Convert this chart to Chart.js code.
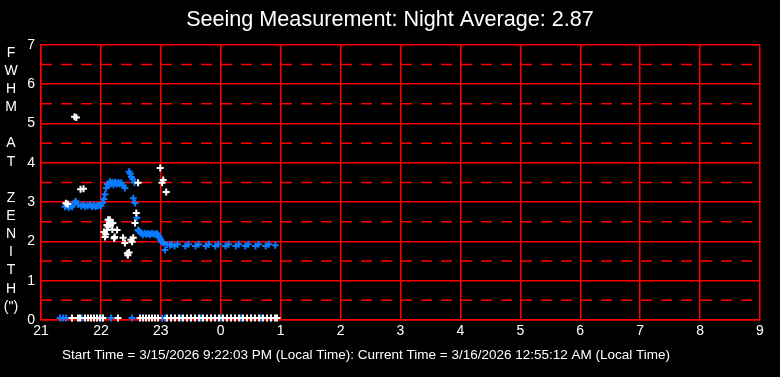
<!DOCTYPE html>
<html><head><meta charset="utf-8">
<script src="https://cdn.jsdelivr.net/npm/chart.js@4/dist/chart.umd.min.js"></script>
<style>html,body{margin:0;padding:0;background:#000;overflow:hidden}</style>
</head><body>
<canvas id="c" width="780" height="377"></canvas>
<script>
const titleText = 'Seeing Measurement: Night Average: 2.87';
const footerText = 'Start Time = 3/15/2026 9:22:03 PM (Local Time): Current Time = 3/16/2026 12:55:12 AM (Local Time)';
const yTitleLetters = ['F','W','H','M','','A','T','','Z','E','N','I','T','H','(")'];

// Blue series: FWHM at zenith (hours since midnight of start day, arcsec)
const blueTimes = [21.40,21.43,21.46,21.49,21.52,21.56,21.58,21.62,21.67,21.71,21.74,21.78,21.82,21.85,21.88,21.91,21.94,21.97,22.00,
  22.03,22.05,22.07,22.09,22.11,22.13,22.15,22.17,22.19,22.21,22.23,22.25,22.27,22.29,22.31,22.34,22.37,22.40,
  22.47,22.49,22.51,22.53,22.54,22.56,22.57,22.60,22.62,22.64,22.67,22.70,22.73,22.76,22.79,22.82,22.85,22.88,22.91,22.94,22.96,
  22.98,23.00,23.01,23.04,23.07,23.10,23.15,23.18,23.23,23.28,23.41,23.46,23.58,23.63,23.75,23.80,23.91,23.96,
  24.08,24.13,24.25,24.30,24.41,24.46,24.58,24.63,24.75,24.80,24.91,
  21.32,21.37,21.42,21.68,22.02,22.17,22.52,23.02,23.07,23.17,23.34,23.50,23.67,23.84,24.00,24.17,24.34,24.51,24.67,24.84];
const blueValues = [2.88,2.92,2.86,2.90,2.88,2.98,3.02,2.94,2.90,2.93,2.88,2.91,2.93,2.89,2.92,2.88,2.91,2.92,2.90,
  2.98,3.08,3.20,3.36,3.46,3.45,3.52,3.47,3.50,3.44,3.51,3.48,3.46,3.50,3.47,3.49,3.42,3.36,
  3.77,3.72,3.64,3.58,3.10,3.50,2.98,2.60,2.29,2.26,2.21,2.17,2.21,2.18,2.20,2.17,2.21,2.19,2.18,2.20,2.14,
  2.09,2.04,1.99,1.96,1.78,1.92,1.90,1.92,1.88,1.93,1.88,1.93,1.88,1.93,1.88,1.93,1.88,1.93,
  1.88,1.93,1.88,1.93,1.88,1.93,1.88,1.93,1.88,1.93,1.90,
  0.05,0.05,0.05,0.05,0.05,0.05,0.05,0.05,0.05,0.05,0.05,0.05,0.05,0.05,0.05,0.05,0.05,0.05,0.05,0.05];

// White series
const whiteTimes = [21.415,21.445,21.56,21.59,21.66,21.71,22.05,22.07,22.08,22.10,22.10,22.12,22.12,22.15,22.17,22.19,22.20,22.22,22.23,22.27,
  22.37,22.40,22.44,22.45,22.47,22.50,22.52,22.54,22.57,22.59,22.62,22.99,23.02,23.04,23.09,
  21.517,21.617,21.651,21.734,21.784,21.834,21.885,21.935,21.985,22.035,22.285,22.652,22.702,22.752,22.802,22.852,22.902,22.953,
  23.103,23.170,23.236,23.303,23.370,23.437,23.503,23.570,23.637,23.704,23.770,23.837,23.904,23.971,24.037,24.104,24.171,24.238,
  24.304,24.371,24.438,24.505,24.571,24.638,24.705,24.772,24.838,24.905,24.939];
const whiteValues = [2.97,2.95,5.17,5.15,3.33,3.34,2.24,2.11,2.18,2.29,2.42,2.37,2.55,2.55,2.45,2.30,2.47,2.08,2.11,2.29,
  2.09,1.96,1.70,1.65,1.72,2.04,1.99,2.09,2.47,2.72,3.49,3.87,3.49,3.56,3.26,
  0.05,0.05,0.05,0.05,0.05,0.05,0.05,0.05,0.05,0.05,0.05,0.05,0.05,0.05,0.05,0.05,0.05,0.05,
  0.05,0.05,0.05,0.05,0.05,0.05,0.05,0.05,0.05,0.05,0.05,0.05,0.05,0.05,0.05,0.05,0.05,0.05,
  0.05,0.05,0.05,0.05,0.05,0.05,0.05,0.05,0.05,0.05,0.05];

const xMin = 21, xMax = 33;
const yMin = 0, yMax = 7;

const pts = (t, v) => t.map((x, i) => ({x, y: v[i]}));
const FONT = '"Liberation Sans", Arial, sans-serif';
const isHalf = v => !Number.isInteger(Math.round(v * 1000) / 1000);
const GRID_W = 1.5;

const decorPlugin = {
  id: 'decor',
  beforeDatasetsDraw(chart) {
    const y = chart.scales.y, a = chart.chartArea, c = chart.ctx;
    c.save();
    c.strokeStyle = '#ff0000';
    c.lineWidth = GRID_W;
    c.setLineDash([11, 9]);
    y.ticks.forEach(t => {
      if (!isHalf(t.value)) return;
      const p = y.getPixelForValue(t.value);
      c.beginPath(); c.moveTo(a.left, p); c.lineTo(a.right, p); c.stroke();
    });
    c.restore();
  },
  afterDraw(chart) {
    const c = chart.ctx, a = chart.chartArea;
    c.save();
    c.fillStyle = '#fff';
    c.font = '14px ' + FONT;
    c.textAlign = 'center';
    c.textBaseline = 'middle';
    yTitleLetters.forEach((t, i) => c.fillText(t, 11, a.top + 8 + i * 18.14));
    c.font = '13.5px ' + FONT;
    c.textAlign = 'left';
    c.fillText(footerText, 62, a.bottom + 35);
    c.restore();
  }
};

const font = {family: FONT, weight: 'normal'};

new Chart(document.getElementById('c'), {
  type: 'scatter',
  data: {
    datasets: [
      {data: pts(whiteTimes, whiteValues), pointStyle: 'cross', pointRadius: 3.5, pointBorderWidth: 2,
       borderColor: '#ffffff', backgroundColor: '#ffffff', showLine: false, clip: false},
      {data: pts(blueTimes, blueValues), pointStyle: 'cross', pointRadius: 3.5, pointBorderWidth: 2,
       borderColor: '#0a7cff', backgroundColor: '#0a7cff', showLine: false, clip: false}
    ]
  },
  options: {
    responsive: false, animation: false, devicePixelRatio: 1,
    layout: {padding: {left: 0, right: 0, top: 0, bottom: 37}},
    plugins: {
      legend: {display: false}, tooltip: {enabled: false},
      title: {display: true, text: titleText, color: '#fff', font: {...font, size: 21.6}, padding: {top: 7, bottom: 12}}
    },
    scales: {
      x: {
        type: 'linear', min: xMin, max: xMax,
        afterFit(s) { s.height = 20; },
        ticks: {stepSize: 1, color: '#fff', font: {...font, size: 14}, padding: 3, maxRotation: 0, autoSkip: false,
          callback: v => String(((v % 24) + 24) % 24)},
        grid: {color: '#ff0000', lineWidth: GRID_W, drawTicks: false},
        border: {color: '#ff0000', width: GRID_W}
      },
      y: {
        min: yMin, max: yMax,
        afterFit(s) { s.width = 41; },
        ticks: {stepSize: 0.5, autoSkip: false, color: '#fff', font: {...font, size: 14}, padding: 6,
          callback: v => isHalf(v) ? '' : String(v)},
        grid: {lineWidth: GRID_W, drawTicks: false,
          color: ctx => (ctx.tick && isHalf(ctx.tick.value)) ? 'rgba(0,0,0,0)' : '#ff0000'},
        border: {color: '#ff0000', width: GRID_W}
      },
      yRight: {
        position: 'right', min: yMin, max: yMax,
        afterFit(s) { s.width = 20; },
        ticks: {display: false}, grid: {display: false}, border: {display: false}
      }
    }
  },
  plugins: [decorPlugin]
});
</script>
</body></html>
